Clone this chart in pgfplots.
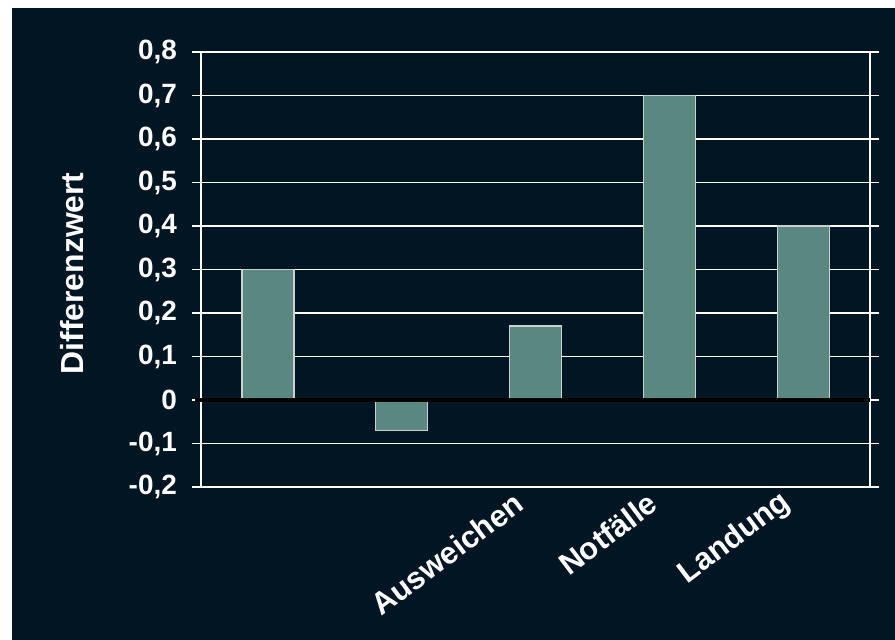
\documentclass[border=0pt]{standalone}
\usepackage{pgfplots}
\pgfplotsset{compat=1.18}
\usepackage{fontspec}
\setmainfont{Liberation Sans}
\definecolor{bg}{HTML}{011522}
\definecolor{barfill}{HTML}{5A877F}
\definecolor{barline}{HTML}{C8D0D0}
\begin{document}
\begin{tikzpicture}[x=1bp,y=1bp]
\fill[white] (0,0) rectangle (895,640);
\fill[bg] (12,0) rectangle (895,632);
\begin{axis}[
  at={(201bp,153bp)}, anchor=south west,
  scale only axis, width=669bp, height=435bp,
  xmin=-0.5, xmax=4.5, ymin=-0.2, ymax=0.8,
  ytick={-0.2,-0.1,0,0.1,0.2,0.3,0.4,0.5,0.6,0.7,0.8},
  xtick={0,1,2,3,4},
  xticklabels={,,Ausweichen,Notfälle,Landung},
  xtick style={draw=none},
  ytick style={draw=white, line width=1.2pt},
  tick align=outside, major tick length=9bp,
  ymajorgrids, grid style={white, line width=1.2pt},
  axis line style={white, line width=1.2pt},
  /pgf/number format/assume math mode=true,
  /pgf/number format/use comma, /pgf/number format/fixed,
  /pgf/number format/precision=1,
  yticklabel style={font=\fontsize{28}{32}\selectfont\bfseries, text=white, inner sep=0pt, anchor=east, xshift=-15bp},
  xticklabel style={font=\fontsize{31}{35}\selectfont\bfseries, text=white, rotate=37, anchor=east, inner sep=0pt, xshift=-15bp, yshift=7bp},
  ylabel={Differenzwert},
  every axis y label/.style={at={(rel axis cs:-0.1928,0.491)}, rotate=90, anchor=center,
     font=\fontsize{32}{36}\selectfont\bfseries, text=white},
  ybar, bar width=52bp,
  axis background/.style={fill=bg},
  clip=false,
]
\addplot[fill=barfill, draw=barline, line width=1.2pt] coordinates {(0,0.30) (1,-0.07) (2,0.17) (3,0.70) (4,0.40)};
\draw[black, line width=3.2pt, shorten <=-6bp] (axis cs:-0.5,0) -- (axis cs:4.5,0);
\end{axis}
\pgfresetboundingbox
\useasboundingbox (0,0) rectangle (895,640);
\end{tikzpicture}
\end{document}
